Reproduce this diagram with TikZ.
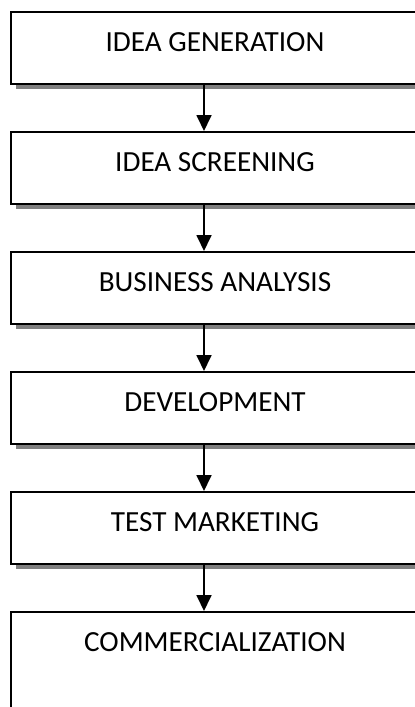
\documentclass[tikz,border=0pt]{standalone}
\usepackage{fontspec}
\setmainfont{Carlito}
\usetikzlibrary{arrows.meta,shadows}
\tikzset{
  stagebox/.style={draw=black, line width=1.8pt, fill=white, rectangle,
    minimum width=408pt, inner sep=0pt, anchor=north,
    text height=40pt, text depth=32pt,
    font=\fontsize{29.2pt}{34pt}\selectfont,
    drop shadow={shadow xshift=5pt, shadow yshift=-5pt, fill=black!50, opacity=1}},
  lastbox/.style={stagebox, text depth=57pt},
  flowarrow/.style={line width=1.8pt, -{Triangle[width=15pt,length=16pt]}}
}
\begin{document}
\begin{tikzpicture}[x=1pt,y=1pt]
\clip (0,0) rectangle (415,-707);
\node[stagebox] (b1) at (215,-11) {IDEA GENERATION};
\node[stagebox] (b2) at (215,-131) {IDEA SCREENING};
\node[stagebox] (b3) at (215,-251) {BUSINESS ANALYSIS};
\node[stagebox] (b4) at (215,-371) {DEVELOPMENT};
\node[stagebox] (b5) at (215,-491) {TEST MARKETING};
\node[lastbox] (b6) at (215,-611) {COMMERCIALIZATION};
\coordinate (ax) at (204,0);
\draw[flowarrow] (b1.south -| ax) -- (b2.north -| ax);
\draw[flowarrow] (b2.south -| ax) -- (b3.north -| ax);
\draw[flowarrow] (b3.south -| ax) -- (b4.north -| ax);
\draw[flowarrow] (b4.south -| ax) -- (b5.north -| ax);
\draw[flowarrow] (b5.south -| ax) -- (b6.north -| ax);
\end{tikzpicture}
\end{document}
